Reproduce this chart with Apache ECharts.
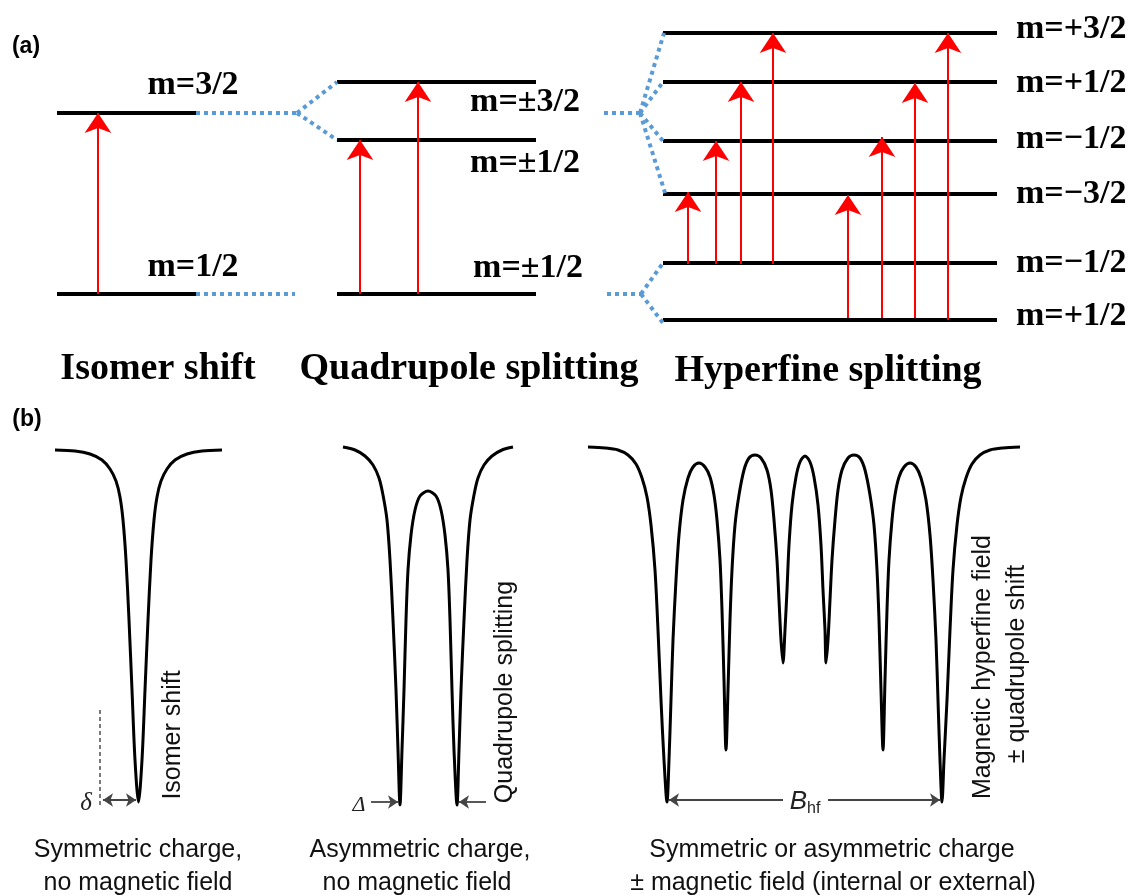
<!DOCTYPE html>
<html><head><meta charset="utf-8">
<script src="https://cdn.jsdelivr.net/npm/echarts@6/dist/echarts.min.js"></script>
<style>html,body{margin:0;padding:0;background:#fff}#main{width:1139px;height:896px}</style>
</head><body><div id="main"></div>
<script>
// ---------- Panel (a): energy-level diagram ----------
// levels: [xStart, xEnd, y]
const isomerLevels = [[57,196,113],[57,196,294]];
const quadLevels   = [[337,536,82],[337,536,140],[337,536,294]];
const hyperLevels  = [[663,997,33],[663,997,82],[663,997,141],[663,997,194],[663,997,263],[663,997,320]];
// dotted connectors: [x0,y0,x1,y1]
const dottedLinks = [
  [196,113,297,113],[297,113,337,82],[297,113,337,140],
  [196,294,295,294],
  [604,113,640,113],[640,113,664,33],[640,113,663,82],[640,113,663,141],[640,113,666,196],
  [607,294,641,294],[641,294,663,263],[641,294,663,323]
];
// transitions: [x, yFrom, yTo]
const transitions = [
  [98,294,113],
  [360,294,140],[418,294,82],
  [688,264,192],[716,264,141],[741,264,82],[773,264,33],
  [848,318,195],[882,318,137],[915,318,83],[948,320,33]
];
const levelLabels = [
  ['m=3/2',193,85],['m=1/2',193,267],
  ['m=\u00b13/2',525,102],['m=\u00b11/2',525,163],['m=\u00b11/2',528,268]
];
const hyperLabels = [
  ['m=+3/2',29],['m=+1/2',83],['m=\u22121/2',139],['m=\u22123/2',194],['m=\u22121/2',263],['m=+1/2',316]
];
const panelTitles = [['Isomer shift',158,369],['Quadrupole splitting',469,369],['Hyperfine splitting',828,371]];

// ---------- Panel (b): Mössbauer spectra ----------
const spectrumIsomer = [
  [55,450],[75,451],[90,454],[102,460],[110,469],[116,481],[120,497],[123,520],[126,560],[129,620],[132,690],[135,760],[138.5,802],
  [142,760],[145,690],[148,620],[151,560],[154,520],[157,497],[161,481],[167,469],[175,460],[187,454],[202,451],[222,450]
];
const spectrumQuad = [
  [343,447],[355,450],[365,456],[373,465],[379,478],[383,495],[387,520],[390,560],[393,620],[396,690],[398,750],[400,805],
  [402,750],[404,690],[406,620],[408,570],[411,535],[415,510],[420,496],[428,491],[436,496],[441,510],[445,535],[448,570],[450,620],[452,690],[454,750],[457,805],
  [459,750],[461,690],[464,620],[467,560],[470,520],[474,495],[478,478],[484,465],[492,456],[502,450],[513,447]
];
const spectrumHyper = [
  [588,447],[605,448],[618,450],[628,455],[636,464],[642,478],[647,497],[651,525],[655,570],[658,630],[661,700],[664,760],[667,802],
  [669,760],[671,700],[673,640],[676,580],[679,535],[683,500],[688,478],[693,467],[699,463],[705,467],[710,477],[714,495],[717,520],[720,560],[722,610],[724,680],[726,750],
  [728,690],[730,620],[732,570],[735,525],[739,495],[744,470],[749,458],[755,455],[761,458],[767,470],[771,490],[774,520],[777,560],[779,600],[781,640],[783,663],
  [785,630],[787,590],[789,545],[792,505],[796,477],[800,462],[805,456],[810,462],[814,477],[818,505],[821,545],[823,590],[825,630],[826,663],
  [828,640],[830,600],[832,560],[835,520],[838,490],[842,470],[848,458],[854,455],[860,458],[865,470],[870,495],[874,525],[877,570],[879,620],[881,690],[883,750],
  [885,680],[887,610],[889,560],[892,520],[895,495],[899,477],[904,467],[910,463],[916,467],[921,478],[926,500],[930,535],[933,580],[936,640],[938,700],[940,760],[942,802],
  [944,760],[947,700],[950,630],[953,570],[957,525],[961,497],[966,478],[972,464],[980,455],[990,450],[1003,448],[1020,447]
];
// measurement markers: [x0,y0,x1,y1, startArrow, endArrow]
const markerArrows = [
  [103,800,136,800,true,true],
  [371,802,398,802,false,true],
  [486,802,459,802,false,true],
  [783,800,669,800,false,true],
  [828,800,940,800,false,true]
];
const isomerRefLine = [[100,710],[100,808]];
const captions = [
  ['Symmetric charge,',138,850],['no magnetic field',138,883],
  ['Asymmetric charge,',420,850],['no magnetic field',417,883],
  ['Symmetric or asymmetric charge',832,850],['\u00b1 magnetic field (internal or external)',833,883]
];
const rotatedLabels = [
  ['Isomer shift',173,735],['Quadrupole splitting',505,692],
  ['Magnetic hyperfine field',983,667],['\u00b1 quadrupole shift',1017,664]
];

// ---------- build ----------
const serif = '"Liberation Serif","Times New Roman",serif';
const sans = '"Liberation Sans",Arial,sans-serif';
function levelData(arr){ return arr.map(l => ({coords:[[l[0],l[2]],[l[1],l[2]]]})); }
function textPoint(name,x,y,label){ return {name, value:[x,y], label}; }

const series = [
  {type:'lines', coordinateSystem:'cartesian2d', silent:true, symbol:'none',
   lineStyle:{color:'#000', width:4, opacity:1},
   data:[...levelData(isomerLevels),...levelData(quadLevels),...levelData(hyperLevels)]},
  {type:'lines', coordinateSystem:'cartesian2d', silent:true, symbol:'none',
   lineStyle:{color:'#5b9bd5', width:4, type:[4,4], opacity:1},
   data:dottedLinks.map(d => ({coords:[[d[0],d[1]],[d[2],d[3]]]}))},
  {type:'lines', coordinateSystem:'cartesian2d', silent:true, symbol:['none','arrow'], symbolSize:20,
   lineStyle:{color:'#ff0000', width:2, opacity:1},
   data:transitions.map(t => ({coords:[[t[0],t[1]],[t[0],t[2]]]}))},
  {type:'line', silent:true, showSymbol:false, smooth:0.3, data:spectrumIsomer, lineStyle:{color:'#000', width:3}},
  {type:'line', silent:true, showSymbol:false, smooth:0.3, data:spectrumQuad, lineStyle:{color:'#000', width:3}},
  {type:'line', silent:true, showSymbol:false, smooth:0.3, data:spectrumHyper, lineStyle:{color:'#000', width:3}},
  {type:'line', silent:true, showSymbol:false, data:isomerRefLine, lineStyle:{color:'#333', width:1.3, type:[4,3]}},
  {type:'lines', coordinateSystem:'cartesian2d', silent:true, symbolSize:10,
   lineStyle:{color:'#444', width:1.8, opacity:1},
   data:markerArrows.map(m => ({coords:[[m[0],m[1]],[m[2],m[3]]], symbol:[m[4]?'arrow':'none', m[5]?'arrow':'none']}))},
  {type:'scatter', silent:true, symbolSize:1, itemStyle:{color:'rgba(0,0,0,0)', opacity:1},
   label:{show:true, position:'inside', formatter:'{b}', color:'#000', align:'center', verticalAlign:'middle'},
   data:[
     textPoint('(a)',26,47,{fontFamily:sans, fontWeight:'bold', fontSize:23}),
     textPoint('(b)',27,420,{fontFamily:sans, fontWeight:'bold', fontSize:23}),
     ...levelLabels.map(l => textPoint(l[0],l[1],l[2],{fontFamily:serif, fontWeight:'bold', fontSize:34})),
     ...hyperLabels.map(l => textPoint(l[0],1016,l[1],{fontFamily:serif, fontWeight:'bold', fontSize:34, align:'left'})),
     ...panelTitles.map(l => textPoint(l[0],l[1],l[2],{fontFamily:serif, fontWeight:'bold', fontSize:38})),
     ...captions.map(l => textPoint(l[0],l[1],l[2],{fontFamily:sans, fontSize:25, color:'#111'})),
     ...rotatedLabels.map(l => textPoint(l[0],l[1],l[2],{fontFamily:sans, fontSize:25, rotate:90, color:'#111'})),
     textPoint('\u03b4',86,803,{fontFamily:serif, fontStyle:'italic', fontSize:25, color:'#222'}),
     textPoint('\u0394',359,805,{fontFamily:serif, fontStyle:'italic', fontSize:22, color:'#222'}),
     textPoint('Bhf',805,802,{fontFamily:sans, formatter:'{i|B}{s|hf}', rich:{
        i:{fontFamily:sans, fontStyle:'italic', fontSize:26, color:'#222', lineHeight:30, verticalAlign:'middle'},
        s:{fontFamily:sans, fontSize:16, color:'#222', lineHeight:30, verticalAlign:'bottom', padding:[14,0,0,0]}}})
   ]}
];

const chart = echarts.init(document.getElementById('main'), null, {renderer:'canvas'});
chart.setOption({
  animation:false,
  backgroundColor:'#fff',
  grid:{left:0, right:0, top:0, bottom:0},
  xAxis:{type:'value', min:0, max:1139, show:false},
  yAxis:{type:'value', min:0, max:896, inverse:true, show:false},
  series
});
</script></body></html>
